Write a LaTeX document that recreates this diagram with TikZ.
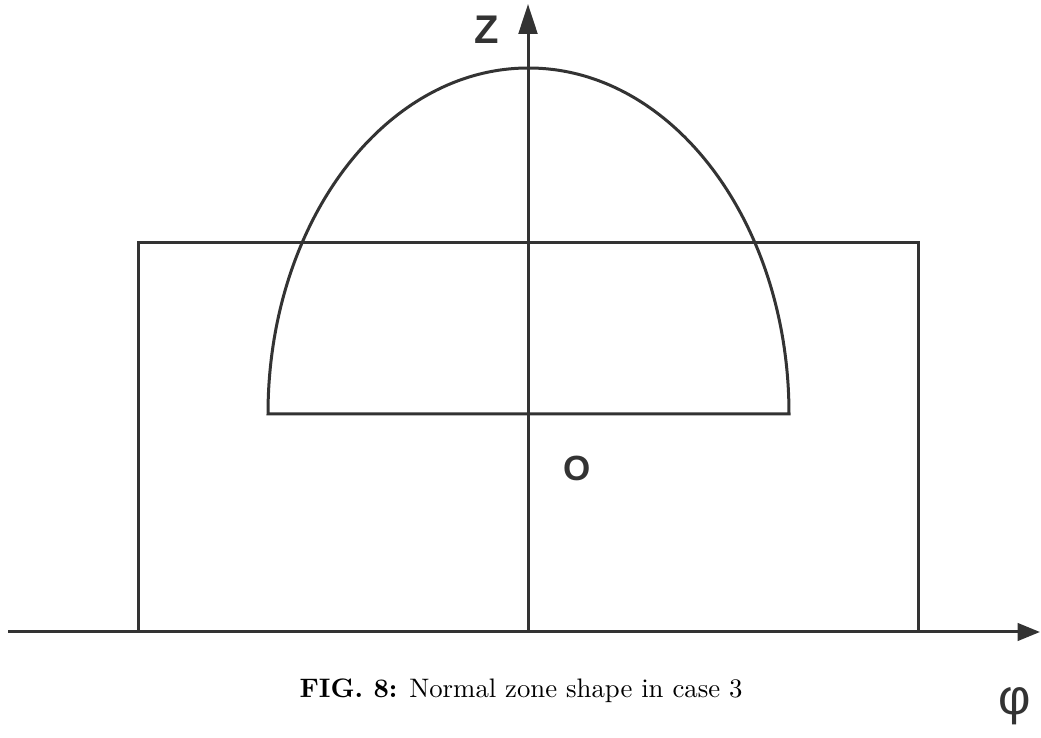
\documentclass[tikz,border=0pt]{standalone}
\usepackage{fontspec}
\newfontfamily\axisfont{Liberation Sans}
\usetikzlibrary{arrows.meta}

\begin{document}
\begin{tikzpicture}[x=0.4pt, y=-0.4pt, line width=1.2pt, draw=black!80,
    axis/.style={draw=black!80, line width=1.2pt},
    axislabel/.style={text=black!80, font=\axisfont\bfseries}]
  \useasboundingbox (0,0) rectangle (1041,738);
  % axes
  \coordinate (O) at (528,632);
  \coordinate (phiend) at (1040,632);
  \coordinate (phistart) at (8,632);
  \coordinate (zend) at (528,4);
  \draw[axis, -{Triangle[length=9pt,width=7pt]}] (phistart) -- (phiend);
  \draw[axis, -{Triangle[length=12pt,width=7.5pt]}] (O) -- (zend);
  % rectangular zone
  \draw[axis] (138,632) -- (138,243) -- (918,243) -- (918,632);
  % normal zone (half ellipse)
  \draw[axis] (268,414) arc[start angle=180, end angle=360, x radius=260.5, y radius=346] -- cycle;
  % labels
  \node[axislabel, font=\axisfont\bfseries\fontsize{16}{16}\selectfont] (zlabel) at (487,30) {Z};
  \node[axislabel, font=\axisfont\bfseries\fontsize{14}{14}\selectfont] (olabel) at (577,468) {O};
  \node[text=black!80, font=\axisfont\fontsize{20}{20}\selectfont] (philabel) at (1015,706) {φ};
  \node[anchor=base, font=\fontsize{10.7}{12}\selectfont] (caption) at (521,698) {\textbf{FIG. 8:} Normal zone shape in case 3};
\end{tikzpicture}
\end{document}
